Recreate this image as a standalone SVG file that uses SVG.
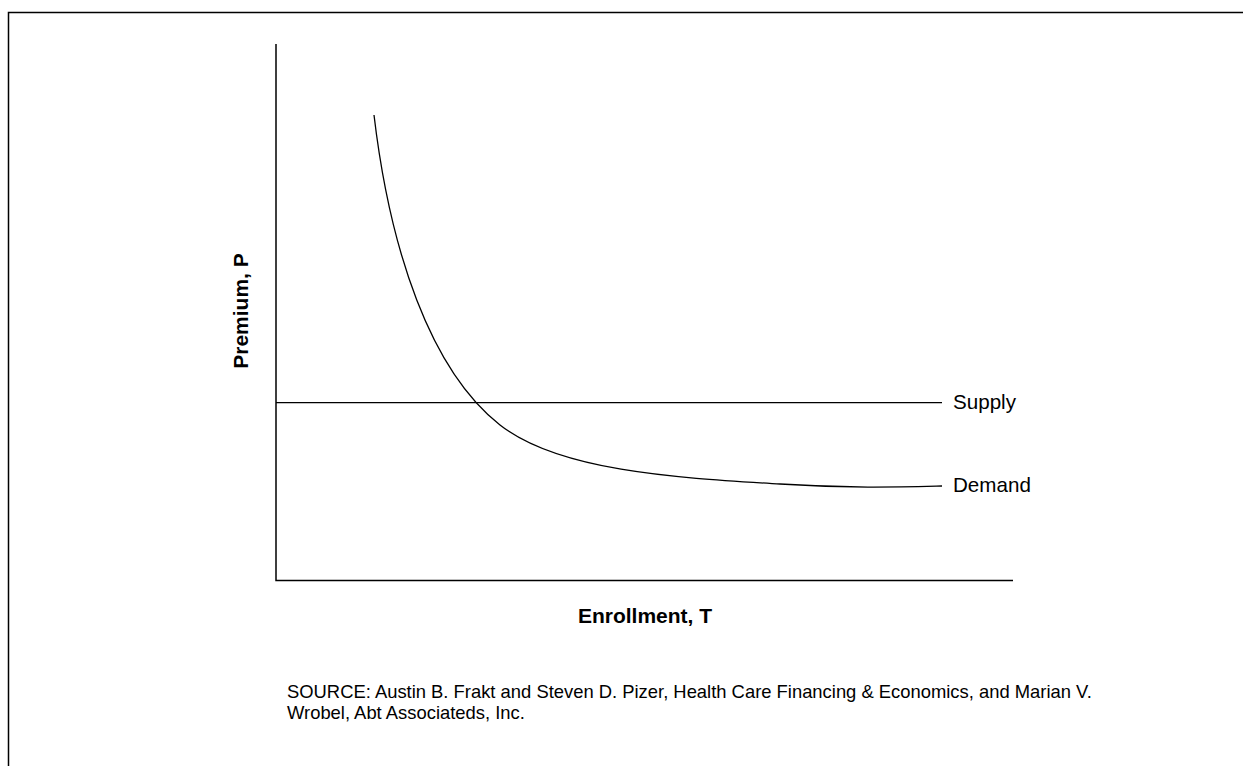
<svg xmlns="http://www.w3.org/2000/svg" width="1243" height="766" viewBox="0 0 1243 766">
<style>
.ax{stroke:#000;stroke-width:1.5;fill:none}
.ln{stroke:#000;stroke-width:1.3;fill:none}
.lbl{font-family:"Liberation Sans",Arial,sans-serif;font-size:20.6px;fill:#000}
.bold{font-family:"Liberation Sans",Arial,sans-serif;font-size:21px;font-weight:bold;fill:#000}
.src{font-family:"Liberation Sans",Arial,sans-serif;font-size:18.4px;fill:#000}
</style>
<rect width="1243" height="766" fill="#fff"/>
<path class="ax" d="M8.5,766 V12.5 H1243"/>
<g id="axes">
<path class="ax" d="M276,44 V580.5 H1013"/>
</g>
<g id="connectors">
<path id="supply-line" class="ln" d="M276,402.7 H942"/>
<path id="demand-curve" class="ln" d="M374,115 C390,250 430,370 500,425 C560,472 680,478 780,484 C850,488.5 900,487 942,486"/>
</g>
<g id="supply-label"><text class="lbl" x="953" y="409">Supply</text></g>
<g id="demand-label"><text class="lbl" x="953" y="492">Demand</text></g>
<g id="y-label"><text class="bold" transform="translate(248,311) rotate(-90)" text-anchor="middle">Premium, P</text></g>
<g id="x-label"><text class="bold" x="645" y="623" text-anchor="middle">Enrollment, T</text></g>
<g id="source">
<text class="src" x="287" y="697.5">SOURCE: Austin B. Frakt and Steven D. Pizer, Health Care Financing &amp; Economics, and Marian V.</text>
<text class="src" x="287" y="719">Wrobel, Abt Associateds, Inc.</text>
</g>
</svg>
